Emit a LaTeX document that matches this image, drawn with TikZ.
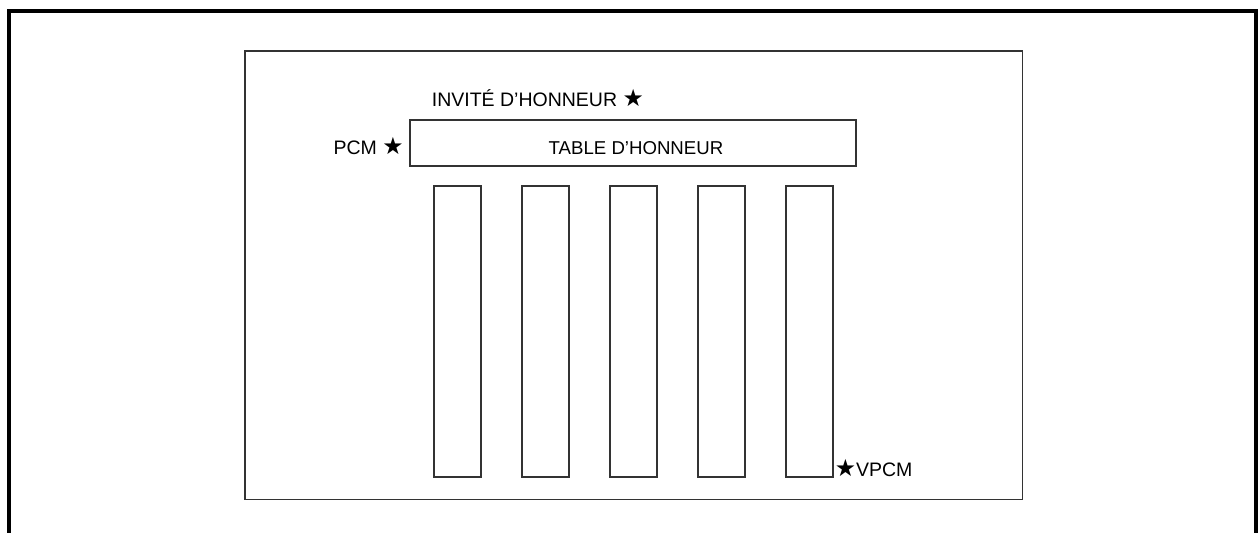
\documentclass[tikz,border=0pt]{standalone}
\usepackage{fontspec}
\setmainfont{Liberation Sans}
\newfontfamily\starfont{DejaVu Sans}
\newcommand{\etoile}{{\starfont\fontsize{13.5}{14}\selectfont ★}}

\begin{document}
\begin{tikzpicture}[
  x=0.02cm, y=-0.02cm,
  font=\fontsize{10.6}{12}\selectfont,
  wall/.style={line width=2.2pt, line cap=rect},
  plan/.style={draw=black!80, line width=0.9pt},
  longtable/.style={plan, rectangle, anchor=north west, inner sep=0pt,
    minimum width=0.94cm, minimum height=5.82cm},
  tag/.style={inner sep=0pt, font=\fontsize{11.1}{13}\selectfont},
]

% Geometry
\def\Tx{433}     % left edge of the first long table
\def\Tgap{88}    % pitch between long tables
\def\Ty{185}     % top edge of the long tables

\useasboundingbox (0,0) rectangle (1258,533);

% ── Outer walls (open at the bottom) ────────────────────────────────────
\draw[wall] (9,540) -- (9,11) -- (1256,11) -- (1256,540);

% ── Room ────────────────────────────────────────────────────────────────
\node[plan, rectangle, inner sep=0pt, anchor=north west,
  minimum width=15.56cm, minimum height=8.98cm] (room) at (244,50) {};

% ── Head table ──────────────────────────────────────────────────────────
\node[plan, rectangle, inner sep=0pt,
  minimum width=8.92cm, minimum height=0.92cm] (honneur) at (633,143) {};
\node[anchor=base] (honneurlbl) at (636,154.7) {TABLE D’HONNEUR};

% ── Five long tables ────────────────────────────────────────────────────
\foreach \i in {1,...,5} {
  \pgfmathsetmacro\xx{\Tx + (\i-1)*\Tgap}
  \node[longtable] (t\i) at (\xx,\Ty) {};
}

% ── Seats of note ───────────────────────────────────────────────────────
\node[tag, anchor=base west] (invite) at (431.5,106.7) {INVITÉ D’HONNEUR \etoile};
\node[tag, anchor=base east] (pcm) at (404,154.7) {PCM \etoile};
\node[tag, anchor=base west] (vpcm) at (834.5,476.5) {\etoile VPCM};

\end{tikzpicture}
\end{document}
